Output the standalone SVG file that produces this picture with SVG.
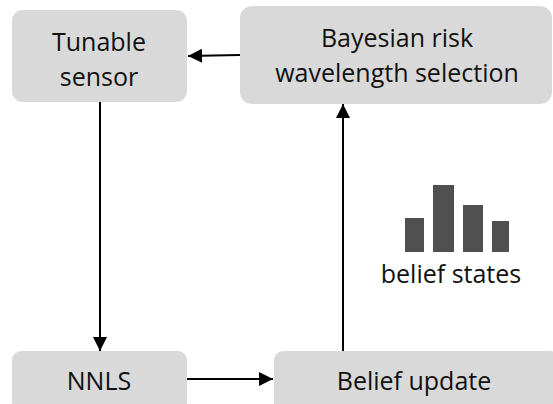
<svg xmlns="http://www.w3.org/2000/svg" width="553" height="404" viewBox="0 0 553 404">
<defs>
<style>
.box{fill:#d9d9d9;}
.t{font-family:"Open Sans","DejaVu Sans",sans-serif;font-size:25px;fill:#111;text-anchor:middle;}
.c{stroke:#000;stroke-width:2;fill:none;}
.bar{fill:#505050;}
</style>
<marker id="ah" viewBox="0 0 10 10" refX="10" refY="5" markerWidth="15" markerHeight="14" markerUnits="userSpaceOnUse" orient="auto"><path d="M0,0 L10,5 L0,10 Z" fill="#000"/></marker>
</defs>
<g id="tunable"><rect class="box" x="12" y="10" width="175" height="92" rx="11"/><text class="t" x="99" y="51">Tunable</text><text class="t" x="99" y="86">sensor</text></g>
<g id="bayesian"><rect class="box" x="240" y="6" width="312" height="98" rx="12"/><text class="t" x="397" y="47">Bayesian risk</text><text class="t" x="397" y="82">wavelength selection</text></g>
<g id="nnls"><rect class="box" x="12" y="351" width="175" height="60" rx="9"/><text class="t" x="99" y="390">NNLS</text></g>
<g id="belief"><rect class="box" x="274" y="351" width="285" height="60" rx="9"/><text class="t" x="414" y="390">Belief update</text></g>
<g id="beliefstates">
<rect class="bar" x="405" y="218" width="19" height="34"/>
<rect class="bar" x="433" y="185" width="21" height="67"/>
<rect class="bar" x="463" y="205" width="20" height="47"/>
<rect class="bar" x="492" y="221" width="17" height="31"/>
<text class="t" x="451" y="283">belief states</text>
</g>
<g id="connectors">
<line class="c" x1="240" y1="55" x2="188" y2="56" marker-end="url(#ah)"/>
<line class="c" x1="100" y1="102" x2="100" y2="351" marker-end="url(#ah)"/>
<line class="c" x1="187" y1="379" x2="273" y2="379" marker-end="url(#ah)"/>
<line class="c" x1="343" y1="351" x2="343" y2="104" marker-end="url(#ah)"/>
</g>
</svg>
